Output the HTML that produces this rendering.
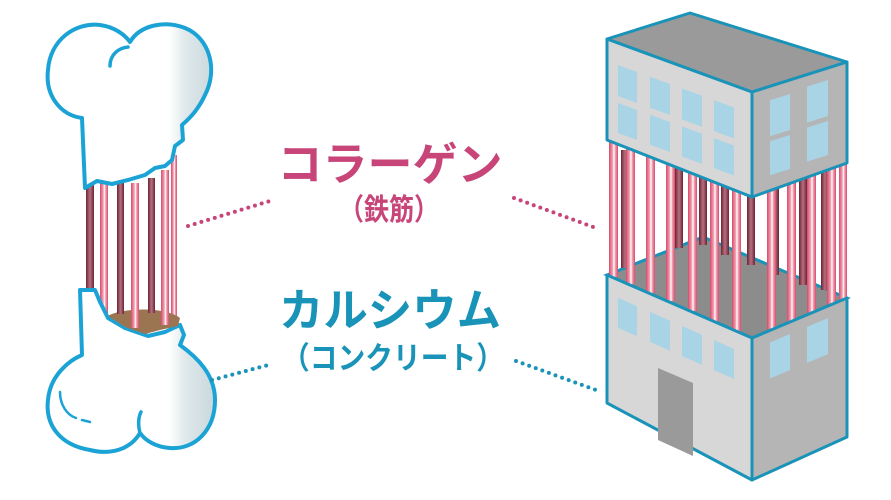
<!DOCTYPE html>
<html><head><meta charset="utf-8"><style>
html,body{margin:0;padding:0;background:#fff;width:891px;height:500px;overflow:hidden}
svg{display:block}
text{font-family:"Liberation Sans","Noto Sans CJK JP",sans-serif;font-weight:bold}
</style></head><body>
<svg width="891" height="500" viewBox="0 0 891 500" xmlns="http://www.w3.org/2000/svg">
<defs>
<linearGradient id="pk" x1="0" x2="1" y1="0" y2="0"><stop offset="0" stop-color="#d94a6a"/><stop offset="0.4" stop-color="#f0a0b2"/><stop offset="0.55" stop-color="#fff"/><stop offset="0.7" stop-color="#f0a0b2"/><stop offset="1" stop-color="#d94a6a"/></linearGradient>
<linearGradient id="dk" x1="0" x2="1" y1="0" y2="0"><stop offset="0" stop-color="#6b2434"/><stop offset="0.5" stop-color="#b87080"/><stop offset="1" stop-color="#6b2434"/></linearGradient>
<linearGradient id="bs" gradientUnits="userSpaceOnUse" x1="150" x2="215" y1="0" y2="0"><stop offset="0" stop-color="#fff"/><stop offset="0.3" stop-color="#fff"/><stop offset="0.55" stop-color="#dfe8eb"/><stop offset="1" stop-color="#c8d8dc"/></linearGradient>
</defs>

<!-- bone rods -->
<g>
<rect x="86" y="185" width="8" height="105" fill="url(#dk)"/>
<rect x="100" y="183" width="8" height="140" fill="url(#pk)"/>
<rect x="117" y="183" width="7" height="130" fill="url(#dk)"/>
<rect x="131" y="183" width="8" height="145" fill="url(#pk)"/>
<rect x="148" y="178" width="7" height="135" fill="url(#dk)"/>
<rect x="161" y="170" width="8" height="155" fill="url(#pk)"/>
<rect x="171" y="155" width="6" height="170" fill="url(#pk)"/>
</g>
<!-- top bone piece -->
<path d="M85,188 L82,118 C60,115 45,95 48,70 C50,40 75,22 100,25 C115,27 125,35 130,42 C140,25 165,20 185,28 C210,38 218,70 205,95 C198,110 190,118 182,125 L183,140 L175,146 L172,160 L165,166 L155,168 L145,175 L128,180 L112,184 L97,181 Z" fill="url(#bs)" stroke="#1ba3d6" stroke-width="4" stroke-linejoin="round"/>
<path d="M110,66 C110,55 118,48 128,47" fill="none" stroke="#1ba3d6" stroke-width="3.5" stroke-linecap="round"/>
<!-- bottom bone piece -->
<path d="M80,290 L95,290 L100,302 L108,318 L125,328 L148,336 L165,332 L180,325 L184,335 L180,345 C198,358 215,375 215,400 C215,430 195,450 170,448 C155,447 145,440 140,433 C130,450 110,455 90,450 C60,445 45,425 48,400 C50,375 70,360 82,355 Z" fill="url(#bs)" stroke="#1ba3d6" stroke-width="4" stroke-linejoin="round"/>
<path d="M108,316 C120,308 165,306 180,318 L178,326 L160,330 L145,334 L125,327 Z" fill="#9b7552"/>
<rect x="117" y="290" width="7" height="24" fill="url(#dk)"/>
<rect x="148" y="290" width="7" height="23" fill="url(#dk)"/>
<rect x="131" y="290" width="8" height="38" fill="url(#pk)"/>
<rect x="161" y="290" width="8" height="35" fill="url(#pk)"/>
<path d="M60,392 C60,405 67,415 76,418" fill="none" stroke="#1ba3d6" stroke-width="2.5" stroke-linecap="round"/>
<path d="M82,420 L90,422" stroke="#1ba3d6" stroke-width="2.5" stroke-linecap="round"/>
<path d="M140,433 C138,425 138,418 141,412" fill="none" stroke="#1ba3d6" stroke-width="3.5" stroke-linecap="round"/>

<!-- dotted connectors -->
<line x1="188" y1="226" x2="270" y2="201" stroke="#c8457a" stroke-width="4" stroke-dasharray="0 7" stroke-linecap="round"/>
<line x1="514" y1="198" x2="596" y2="228" stroke="#c8457a" stroke-width="4" stroke-dasharray="0 7" stroke-linecap="round"/>
<line x1="212" y1="380" x2="272" y2="364" stroke="#1a93b8" stroke-width="4" stroke-dasharray="0 7" stroke-linecap="round"/>
<line x1="516" y1="361" x2="596" y2="390" stroke="#1a93b8" stroke-width="4" stroke-dasharray="0 7" stroke-linecap="round"/>

<!-- text -->
<text x="390" y="180" text-anchor="middle" font-size="45" fill="#c8457a" textLength="225" lengthAdjust="spacingAndGlyphs">コラーゲン</text>
<text x="389" y="220" text-anchor="middle" font-size="30" fill="#c8457a" textLength="100" lengthAdjust="spacingAndGlyphs">（鉄筋）</text>
<text x="390" y="326" text-anchor="middle" font-size="45" fill="#1a93b8" textLength="222" lengthAdjust="spacingAndGlyphs">カルシウム</text>
<text x="393" y="369" text-anchor="middle" font-size="31" fill="#1a93b8" textLength="222" lengthAdjust="spacingAndGlyphs">（コンクリート）</text>

<!-- building floor -->
<polygon points="607,275 703,237 847,298 752,338" fill="#8c8c8c" stroke="#1a93b8" stroke-width="3"/>
<!-- back rods -->
<g fill="url(#dk)">
<rect x="621" y="150" width="8" height="118"/>
<rect x="647" y="150" width="8" height="108"/>
<rect x="675" y="150" width="8" height="98"/>
<rect x="699" y="150" width="8" height="95"/>
<rect x="721" y="150" width="8" height="105"/>
<rect x="747" y="150" width="8" height="115"/>
<rect x="771" y="150" width="8" height="125"/>
<rect x="799" y="150" width="8" height="135"/>
<rect x="821" y="150" width="8" height="140"/>
</g>
<!-- front rods -->
<g fill="url(#pk)">
<rect x="609" y="140" width="9" height="137"/>
<rect x="626" y="146" width="9" height="138"/>
<rect x="646" y="154" width="9" height="139"/>
<rect x="666" y="162" width="9" height="139"/>
<rect x="688" y="170" width="9" height="141"/>
<rect x="710" y="179" width="9" height="142"/>
<rect x="732" y="188" width="9" height="143"/>
<rect x="767" y="188" width="9" height="142"/>
<rect x="787" y="181" width="9" height="141"/>
<rect x="807" y="174" width="9" height="140"/>
<rect x="827" y="167" width="9" height="138"/>
<rect x="839" y="162" width="8" height="138"/>
</g>

<!-- top box -->
<polygon points="607,39 690,13 847,62 752,92" fill="#9a9a9a" stroke="#1a93b8" stroke-width="3" stroke-linejoin="round"/>
<polygon points="607,39 752,92 752,197 607,140" fill="#d7d7d7" stroke="#1a93b8" stroke-width="3" stroke-linejoin="round"/>
<polygon points="752,92 847,62 847,163 752,197" fill="#b5b5b5" stroke="#1a93b8" stroke-width="3" stroke-linejoin="round"/>
<g transform="matrix(1,0.366,0,1,607,39)" fill="#a9d4e6">
<rect x="11" y="22" width="19" height="31"/><rect x="11" y="60" width="19" height="30"/>
<rect x="43" y="22" width="20" height="31"/><rect x="43" y="60" width="20" height="30"/>
<rect x="75" y="22" width="20" height="31"/><rect x="75" y="60" width="20" height="30"/>
<rect x="107" y="22" width="20" height="31"/><rect x="107" y="60" width="20" height="30"/>
</g>
<g transform="matrix(1,-0.316,0,1,752,92)" fill="#a9d4e6">
<rect x="18" y="14" width="20" height="36"/><rect x="18" y="55" width="20" height="34"/>
<rect x="55" y="12" width="21" height="36"/><rect x="55" y="53" width="21" height="34"/>
</g>

<!-- bottom box -->
<polygon points="607,275 752,338 752,480 607,403" fill="#d7d7d7" stroke="#1a93b8" stroke-width="3" stroke-linejoin="round"/>
<polygon points="752,338 847,298 847,437 752,480" fill="#b5b5b5" stroke="#1a93b8" stroke-width="3" stroke-linejoin="round"/>
<g transform="matrix(1,0.44,0,1,607,275)" fill="#a9d4e6">
<rect x="11" y="18" width="19" height="30"/>
<rect x="43" y="18" width="20" height="30"/>
<rect x="75" y="18" width="20" height="30"/>
<rect x="107" y="18" width="20" height="30"/>
</g>
<polygon points="658,368 693,383 693,456 658,440" fill="#9a9a9a"/>
<g transform="matrix(1,-0.42,0,1,752,338)" fill="#a9d4e6">
<rect x="18" y="12" width="20" height="36"/>
<rect x="55" y="12" width="21" height="36"/>
</g>
</svg>
</body></html>
